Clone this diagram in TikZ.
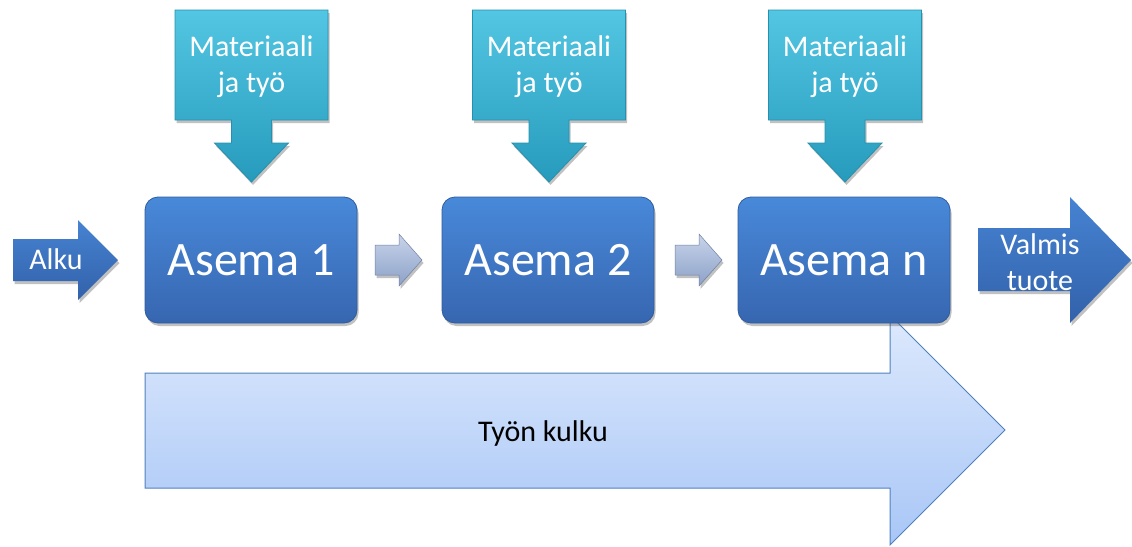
\documentclass[tikz,border=0pt]{standalone}
\usepackage{fontspec}
\setmainfont{Carlito}
\usetikzlibrary{shadows}
\definecolor{calltop}{HTML}{52C6E2}
\definecolor{callbot}{HTML}{279BBC}
\definecolor{callline}{HTML}{2690AE}
\definecolor{boxtop}{HTML}{4889D9}
\definecolor{boxbot}{HTML}{3766B0}
\definecolor{boxline}{HTML}{2F5C9E}
\definecolor{arrtop}{HTML}{4683D2}
\definecolor{arrbot}{HTML}{3261AA}
\definecolor{flowtop}{HTML}{DDE9FD}
\definecolor{flowbot}{HTML}{A8C6F6}
\definecolor{flowline}{HTML}{4F81BD}
\definecolor{smalltop}{HTML}{C8D4EA}
\definecolor{smallbot}{HTML}{8CA1C8}
\tikzset{
  shad/.style={drop shadow={opacity=0.35,shadow xshift=1.5pt,shadow yshift=-3pt,fill=black!70}},
  callshape/.style={shad,top color=calltop,bottom color=callbot,draw=callline,line width=0.8pt},
  stationbox/.style={shad,rounded corners=13pt,minimum width=212pt,minimum height=126pt,
     top color=boxtop,bottom color=boxbot,draw=boxline,line width=0.8pt,
     text=white,font=\fontsize{48}{52}\selectfont,inner sep=0pt},
  bluearrow/.style={shad,top color=arrtop,bottom color=arrbot},
  smallarrow/.style={shad,top color=smalltop,bottom color=smallbot,draw=smallbot!80!black,line width=0.5pt},
  flowarrow/.style={top color=flowtop,bottom color=flowbot,draw=flowline,line width=1pt},
  whitetext/.style={text=white,font=\fontsize{30}{36}\selectfont,align=center,inner sep=0pt},
}
\begin{document}
\begin{tikzpicture}[x=1pt,y=-1pt]
\useasboundingbox (0,0) rectangle (1132,546);
% big flow arrow (behind)
\path[flowarrow] (145,373) -- (890,373) -- (890,315) -- (1005,430) -- (890,545) -- (890,488) -- (145,488) -- cycle;
\node[text=black,font=\fontsize{30}{34}\selectfont,inner sep=0pt] (flow) at (543,433) {Työn kulku};
% callouts
\foreach \i/\cx in {1/251.5,2/549,3/845}{
  \path[callshape] (\cx-76.5,10) -- (\cx+76.5,10) -- (\cx+76.5,120) -- (\cx+20,120) -- (\cx+20,143)
     -- (\cx+37,143) -- (\cx,182) -- (\cx-37,143) -- (\cx-20,143) -- (\cx-20,120) -- (\cx-76.5,120) -- cycle;
  \node[whitetext] (m\i) at (\cx,67) {Materiaali\\ja työ};
}
% stations
\node[stationbox] (s1) at (251,260) {Asema 1};
\node[stationbox] (s2) at (548,260) {Asema 2};
\node[stationbox] (s3) at (844,260) {Asema n};
% small arrows
\foreach \x in {375,675}{
  \path[smallarrow] (\x,245) -- (\x+24,245) -- (\x+24,234) -- (\x+47,260) -- (\x+24,286) -- (\x+24,275) -- (\x,275) -- cycle;
}
% Alku arrow
\path[bluearrow] (13,239) -- (78,239) -- (78,220) -- (118,260) -- (78,300) -- (78,281) -- (13,281) -- cycle;
\node[whitetext] (alku) at (56,259) {Alku};
% Valmis tuote arrow
\path[bluearrow] (978,228) -- (1070,228) -- (1070,197) -- (1131,260) -- (1070,323) -- (1070,291) -- (978,291) -- cycle;
\node[whitetext] (valmis) at (1040,262) {Valmis\\tuote};
\end{tikzpicture}
\end{document}
